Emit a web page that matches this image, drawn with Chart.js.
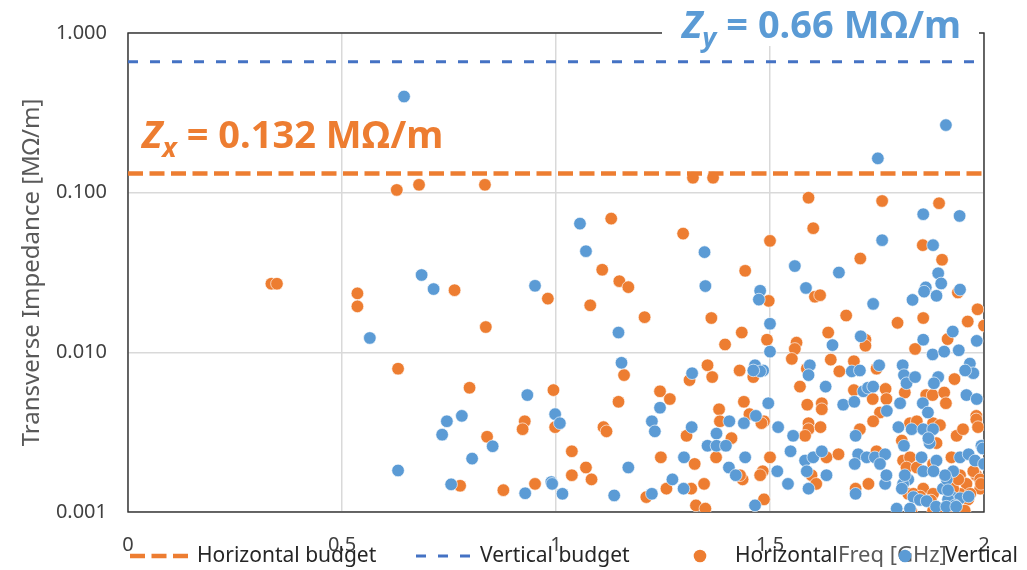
<!DOCTYPE html>
<html>
<head>
<meta charset="utf-8">
<script src="https://cdn.jsdelivr.net/npm/chart.js@4.4.1/dist/chart.umd.min.js"></script>
<style>
  html, body { margin: 0; padding: 0; background: #fff; }
  #wrap { width: 1027px; height: 570px; position: relative; }
</style>
</head>
<body>
<div id="wrap"><canvas id="chartImpedance"></canvas></div>
<script>
// frequency [GHz], transverse impedance [MOhm/m]
const horizontalPoints = [
  [0.335,0.0269],[0.348,0.0269],[0.628,0.104],[0.680,0.112],[0.834,0.112],[1.320,0.124],[1.367,0.124],
  [0.536,0.0234],[0.536,0.0194],[0.763,0.0245],[0.981,0.0217],[0.836,0.0144],[0.631,0.0079],[0.798,0.0060],
  [0.927,0.0037],[0.922,0.0033],[0.839,0.00296],[0.776,0.00146],[0.877,0.00137],[0.951,0.0015],
  [1.129,0.0688],[1.108,0.0329],[1.148,0.0279],[1.169,0.0256],[1.080,0.0197],[1.207,0.0166],[1.297,0.0554],
  [1.363,0.0164],[1.395,0.0112],[1.434,0.0133],[1.442,0.0324],[1.500,0.0499],[1.493,0.0120],
  [1.590,0.093],[1.762,0.0887],[1.895,0.0859],[1.601,0.0599],[1.857,0.0469],[1.902,0.038],[1.711,0.0387],
  [1.605,0.0223],[1.617,0.0228],[1.939,0.0237],[1.678,0.017],[1.798,0.0153],[1.858,0.0164],[1.985,0.0186],
  [1.962,0.0156],[2.0,0.0147],[1.915,0.0121],[1.636,0.0133],[1.723,0.012],[1.723,0.011],[1.562,0.0115],
  [1.558,0.0105],[1.497,0.021],[1.839,0.0105],
  [1.551,0.0091],[1.586,0.0079],[1.570,0.0061],[1.642,0.0090],[1.662,0.0076],[1.696,0.0088],[1.749,0.0079],
  [1.815,0.0056],[1.931,0.0068],[1.696,0.0058],[1.740,0.0051],[1.770,0.0059],[1.772,0.0051],[1.865,0.0054],
  [1.880,0.0054],[1.907,0.0056],[1.911,0.0048],[1.587,0.0047],[1.621,0.0048],[1.621,0.0044],[1.757,0.0042],
  [1.982,0.0040],[1.486,0.0037],[1.590,0.0036],[1.590,0.0033],[1.582,0.0030],[1.618,0.0034],[1.710,0.0033],
  [1.741,0.0037],[1.827,0.0036],[1.843,0.0037],[1.808,0.0028],[1.881,0.0036],[1.897,0.0035],[1.889,0.0027],
  [1.936,0.0030],[1.951,0.0033],[1.982,0.0038],[1.986,0.0034],[1.500,0.0022],[1.632,0.0022],[1.660,0.0023],
  [1.749,0.0024],[1.811,0.0021],[1.827,0.0022],[1.924,0.0022],[1.483,0.0018],[1.597,0.0017],[1.608,0.0015],
  [1.730,0.0015],[1.700,0.0014],[1.819,0.0019],[1.843,0.0019],[1.881,0.0020],[1.823,0.0013],[1.858,0.0014],
  [1.881,0.0013],[1.889,0.00106],[1.904,0.00103],[1.924,0.00105],[1.944,0.0017],[1.959,0.0015],[1.982,0.0017],
  [1.991,0.0014],[1.944,0.0013],
  [1.159,0.0072],[0.994,0.0058],[1.146,0.0049],[0.998,0.0034],[1.111,0.0034],[1.118,0.0032],[1.037,0.0024],
  [1.070,0.0019],[1.037,0.0017],[1.083,0.0016],[1.243,0.0057],[1.266,0.0051],[1.245,0.0022],[1.312,0.0067],
  [1.354,0.0083],[1.365,0.0070],[1.429,0.0077],[1.461,0.0070],[1.439,0.0049],[1.381,0.0044],[1.383,0.0037],
  [1.452,0.0041],[1.480,0.0036],[1.305,0.0030],[1.410,0.0029],[1.374,0.0022],[1.324,0.0020],[1.436,0.0016],
  [1.430,0.0017],[1.477,0.0017],[1.258,0.0014],[1.316,0.0014],[1.346,0.0015],[1.211,0.00124],[1.327,0.0011],
  [1.349,0.00105],[1.486,0.0012],
  [1.881,0.00102],[1.909,0.0010],[1.830,0.00101],[1.928,0.0014],[1.940,0.0016],[1.975,0.0018],[1.963,0.0012],[1.991,0.0016],
  [1.968,0.0013],[1.993,0.0015],[1.835,0.0013],[1.876,0.00118],[1.851,0.00125],[1.955,0.00102]
];
const verticalPoints = [
  [0.645,0.40],[1.911,0.265],[1.752,0.164],[0.686,0.0305],[0.714,0.0249],[0.951,0.0261],[0.565,0.0123],
  [0.933,0.0054],[0.780,0.0040],[0.745,0.0037],[0.734,0.00305],[0.852,0.00258],[0.804,0.00216],[0.631,0.00182],
  [0.755,0.00149],[0.928,0.00131],[0.989,0.00154],[1.056,0.064],[1.070,0.0430],[1.146,0.0133],[1.347,0.0424],
  [1.349,0.026],[1.477,0.0243],[1.474,0.0214],[1.500,0.0151],[1.500,0.0101],[1.858,0.0733],[1.943,0.0715],
  [1.762,0.0504],[1.881,0.0469],[1.558,0.0347],[1.661,0.0316],[1.584,0.0253],[1.893,0.0313],[1.900,0.027],
  [1.864,0.0255],[1.860,0.024],[1.889,0.0226],[1.944,0.0247],[1.833,0.0213],[1.741,0.0201],[1.927,0.0135],
  [1.983,0.0118],[1.712,0.0126],[1.646,0.0111],[1.858,0.012],[1.880,0.0097],[1.907,0.0101],[1.941,0.0103],
  [1.484,0.0077],[1.593,0.0083],[1.590,0.0072],[1.630,0.0061],[1.691,0.0076],[1.710,0.0077],[1.755,0.0083],
  [1.810,0.0083],[1.813,0.0072],[1.819,0.0064],[1.839,0.0070],[1.893,0.0070],[1.883,0.0064],[1.967,0.0085],
  [1.975,0.0074],[1.956,0.0077],[1.718,0.0057],[1.729,0.0060],[1.741,0.0061],[1.804,0.0048],[1.857,0.0048],
  [1.869,0.0042],[1.959,0.0054],[1.983,0.0051],[1.496,0.0048],[1.671,0.0047],[1.697,0.0049],[1.773,0.0043],
  [1.519,0.0034],[1.554,0.0030],[1.700,0.0030],[1.800,0.0034],[1.831,0.0033],[1.813,0.0026],[1.858,0.0033],
  [1.881,0.0033],[1.873,0.0027],[1.994,0.0026],[1.548,0.0024],[1.582,0.0021],[1.601,0.0022],[1.621,0.0024],
  [1.706,0.0023],[1.726,0.0022],[1.745,0.0022],[1.769,0.0023],[1.757,0.0020],[1.854,0.0022],[1.944,0.0022],
  [1.964,0.0023],[1.979,0.0021],[1.997,0.0025],[1.517,0.0018],[1.542,0.0015],[1.590,0.0014],[1.632,0.0017],
  [1.698,0.0020],[1.700,0.0013],[1.769,0.0015],[1.772,0.0017],[1.823,0.0016],[1.811,0.0015],[1.808,0.0014],
  [1.858,0.0018],[1.835,0.00124],[1.850,0.00119],[1.866,0.00117],[1.796,0.00105],[1.827,0.00105],[1.904,0.0014],
  [1.924,0.00125],[1.944,0.00122],[1.964,0.00125],[1.928,0.0018],[1.913,0.0016],
  [1.153,0.0086],[0.998,0.0041],[1.009,0.0036],[0.991,0.0015],[1.015,0.0013],[1.169,0.0019],[1.136,0.00127],
  [1.243,0.0045],[1.224,0.0037],[1.231,0.0032],[1.318,0.0074],[1.465,0.0083],[1.477,0.0076],[1.461,0.0077],
  [1.405,0.0037],[1.439,0.0036],[1.467,0.0040],[1.317,0.0034],[1.375,0.0031],[1.354,0.0026],[1.375,0.0026],
  [1.397,0.0026],[1.299,0.0022],[1.404,0.0019],[1.420,0.0017],[1.442,0.0022],[1.272,0.0016],[1.298,0.0014],
  [1.224,0.0013],[1.465,0.0011],
  [2.0,0.0020],[1.916,0.0012],[1.932,0.0011],[1.909,0.0017],[1.889,0.0021],[1.882,0.0018],[1.815,0.0017],[1.586,0.0018],
  [1.870,0.0029],[1.916,0.00137],[1.888,0.00108],[1.912,0.00108],[1.935,0.00108]
];
const horizontalBudget = 0.132;
const verticalBudget = 0.66;
const freqTicks = [0, 0.5, 1, 1.5, 2];
const impedanceTicks = [0.001, 0.01, 0.1, 1];
const seriesNames = ['Horizontal budget', 'Vertical budget', 'Horizontal', 'Vertical'];

const ORANGE = '#ED7D31', BLUE = '#5B9BD5', BLUE_LINE = '#4472C4';
const FONT = 'Noto Sans';
const toXY = p => ({ x: p[0], y: p[1] });
const budgetLine = v => [{ x: freqTicks[0], y: v }, { x: freqTicks[freqTicks.length - 1], y: v }];

function dashSample(ctx, x0, x1, y, color, width, dash) {
    ctx.save();
    ctx.strokeStyle = color; ctx.lineWidth = width; ctx.setLineDash(dash);
    ctx.beginPath(); ctx.moveTo(x0, y); ctx.lineTo(x1, y); ctx.stroke();
    ctx.restore();
}
function dot(ctx, x, y, color) {
    ctx.save(); ctx.fillStyle = color;
    ctx.beginPath(); ctx.arc(x, y, 6.3, 0, Math.PI * 2); ctx.fill();
    ctx.restore();
}
// draws text pieces one after another: [text, font, dy]
function textRun(ctx, parts, x, y, color) {
    ctx.save(); ctx.fillStyle = color; ctx.textBaseline = 'alphabetic'; ctx.textAlign = 'left';
    parts.forEach(([t, f, dy]) => { ctx.font = f; ctx.fillText(t, x, y + (dy || 0)); x += ctx.measureText(t).width; });
    ctx.restore();
}

const decor = {
    id: 'decor',
    beforeDatasetsDraw(chart) {
        const { ctx, chartArea: a } = chart;
        ctx.save();
        ctx.strokeStyle = '#303030'; ctx.lineWidth = 1.4;
        ctx.strokeRect(a.left, a.top, a.right - a.left, a.bottom - a.top);
        ctx.restore();
    },
    afterDraw(chart) {
        const { ctx } = chart;
        const big = 'bold 38px "' + FONT + '"', bigI = 'italic bold 38px "' + FONT + '"', sub = 'italic bold 27px "' + FONT + '"';
        textRun(ctx, [['Z', bigI], ['x', sub, 9], [' = ' + horizontalBudget + ' MΩ/m', big]], 142, 148, ORANGE);
        ctx.save(); ctx.fillStyle = '#fff'; ctx.fillRect(662, 0, 317, 46); ctx.restore();
        textRun(ctx, [['Z', bigI], ['y', sub, 9], [' = ' + verticalBudget + ' MΩ/m', big]], 682, 38, BLUE);

        // legend + x title (they overlap in the original)
        const ly = 556, lf = '21px "' + FONT + '"';
        dashSample(ctx, 130, 189, ly, ORANGE, 4.5, [15, 6.5]);
        textRun(ctx, [[seriesNames[0], lf]], 197, 562, '#262626');
        dashSample(ctx, 416, 474, ly, BLUE_LINE, 3, [10, 12]);
        textRun(ctx, [[seriesNames[1], lf]], 480, 562, '#262626');
        dot(ctx, 700, ly, ORANGE);
        textRun(ctx, [[seriesNames[2], lf]], 735, 562, '#262626');
        textRun(ctx, [['Freq [GHz]', '22px "' + FONT + '"']], 838, 562, '#595959');
        dot(ctx, 905, ly, BLUE);
        textRun(ctx, [[seriesNames[3], lf]], 945, 562, '#262626');
    }
};

const ctx = document.getElementById('chartImpedance').getContext('2d');
new Chart(ctx, {
    type: 'scatter',
    data: {
        datasets: [
            { type: 'line', label: seriesNames[0], data: budgetLine(horizontalBudget), borderColor: ORANGE, borderWidth: 4.5, borderDash: [15, 6.5], pointRadius: 0, fill: false, order: 0 },
            { type: 'line', label: seriesNames[1], data: budgetLine(verticalBudget), borderColor: BLUE_LINE, borderWidth: 3, borderDash: [10, 12], pointRadius: 0, fill: false, order: 0 },
            { label: seriesNames[2], data: horizontalPoints.map(toXY), backgroundColor: ORANGE, borderColor: 'rgba(255,255,255,0.8)', borderWidth: 0.8, pointRadius: 6.3, order: 2 },
            { label: seriesNames[3], data: verticalPoints.map(toXY), backgroundColor: BLUE, borderColor: 'rgba(255,255,255,0.8)', borderWidth: 0.8, pointRadius: 6.3, order: 1 }
        ]
    },
    options: {
        responsive: true, maintainAspectRatio: false, animation: false,
        layout: { padding: { top: 32, right: 43, left: 0, bottom: 0 } },
        plugins: { legend: { display: false }, tooltip: { enabled: false } },
        scales: {
            x: {
                type: 'linear', min: 0, max: 2,
                afterBuildTicks: s => { s.ticks = freqTicks.map(v => ({ value: v })); },
                afterFit: s => { s.height = 58; },
                grid: { color: '#D9D9D9', lineWidth: 1.5, drawTicks: false },
                border: { display: false },
                ticks: { padding: 21, color: '#404040', font: { family: FONT, size: 20 }, callback: v => String(v) }
            },
            y: {
                type: 'logarithmic', min: 0.001, max: 1,
                afterBuildTicks: s => { s.ticks = impedanceTicks.map(v => ({ value: v })); },
                afterFit: s => { s.width = 128; },
                grid: { color: '#D9D9D9', lineWidth: 1.5, drawTicks: false },
                border: { display: false },
                ticks: { padding: 21, color: '#404040', font: { family: FONT, size: 20 }, callback: v => Number(v).toFixed(3) },
                title: { display: true, text: 'Transverse Impedance [MΩ/m]', color: '#595959', font: { family: FONT, size: 24 }, padding: { top: 18, bottom: 0 } }
            }
        }
    },
    plugins: [decor]
});
</script>
</body>
</html>
